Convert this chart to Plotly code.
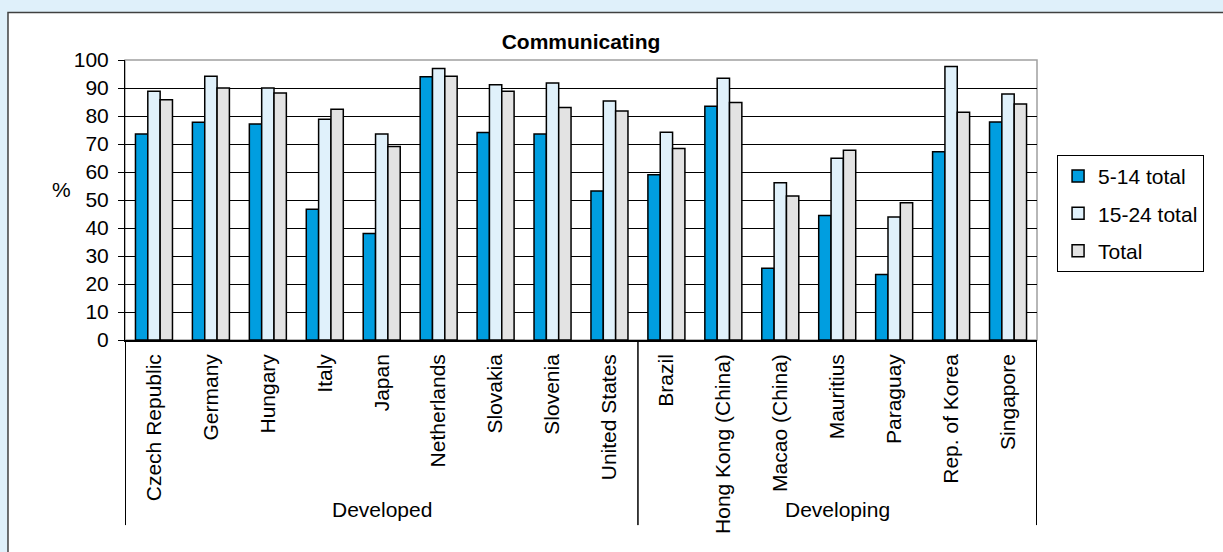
import plotly.graph_objects as go

groups = ["Developed"] * 9 + ["Developing"] * 7
countries = [
    "Czech Republic", "Germany", "Hungary", "Italy", "Japan", "Netherlands",
    "Slovakia", "Slovenia", "United States", "Brazil", "Hong Kong (China)",
    "Macao (China)", "Mauritius", "Paraguay", "Rep. of Korea", "Singapore",
]
age_5_14 = [73.6, 77.8, 77.1, 46.7, 38.0, 94.0, 74.1, 73.6, 53.2,
            59.0, 83.5, 25.6, 44.5, 23.4, 67.2, 77.9]
age_15_24 = [88.8, 94.2, 90.0, 78.8, 73.6, 97.0, 91.2, 91.8, 85.4,
             74.2, 93.5, 56.2, 64.9, 43.9, 97.7, 87.9]
total = [85.8, 90.0, 88.2, 82.4, 69.1, 94.2, 88.8, 83.0, 81.8,
         68.4, 84.8, 51.4, 67.8, 49.0, 81.3, 84.3]

series = [
    ("5-14 total", age_5_14, "#009ee0"),
    ("15-24 total", age_15_24, "#e0f1fb"),
    ("Total", total, "#e3e3e3"),
]

FONT = "Liberation Sans, Arial, sans-serif"

fig = go.Figure()
for name, vals, color in series:
    fig.add_trace(
        go.Bar(
            x=countries,
            y=vals,
            name=name,
            legendgroup=name,
            marker=dict(color=color, line=dict(color="black", width=1.5)),
        )
    )

# white panel on the light blue page
fig.add_shape(
    type="rect", xref="paper", yref="paper",
    x0=-0.1283, x1=1.25, y0=-0.9, y1=1.17,
    fillcolor="white", line=dict(color="#404040", width=1.5), layer="below",
)
# grey frame of the plot area
fig.add_shape(
    type="rect", xref="paper", yref="paper",
    x0=0, x1=1, y0=0, y1=1,
    line=dict(color="#a0a0a0", width=1.5), layer="below",
)

# group dividers and group labels under the country names
names = list(dict.fromkeys(groups))
start = 0
for g in names:
    n = groups.count(g)
    for xb in (start - 0.5, start + n - 0.5):
        fig.add_shape(
            type="line", xref="x", yref="paper", x0=xb, x1=xb, y0=0, y1=-0.661,
            line=dict(color="black", width=1),
        )
    fig.add_annotation(
        text=g, xref="x", yref="paper", x=start + (n - 1) / 2, y=-0.607,
        yanchor="middle", showarrow=False, font=dict(size=21, color="black"),
    )
    start += n

fig.add_annotation(
    text="%", xref="paper", yref="paper", x=-0.082, y=0.536,
    showarrow=False, font=dict(size=21, color="black"),
)

fig.update_layout(
    width=1223,
    height=552,
    margin=dict(l=125, r=186, t=60, b=212),
    paper_bgcolor="#dff0fa",
    plot_bgcolor="white",
    font=dict(family=FONT, size=21, color="black"),
    title=dict(
        text="<b>Communicating</b>", x=0.5, xref="paper",
        y=0.924, yanchor="middle", font=dict(size=21),
    ),
    barmode="group",
    bargap=0.35,
    bargroupgap=0,
    showlegend=True,
    legend=dict(
        x=1.022, y=0.661, xanchor="left", yanchor="top",
        bordercolor="black", borderwidth=1, bgcolor="white",
        traceorder="grouped", tracegroupgap=7,
        font=dict(size=21),
    ),
)
fig.update_yaxes(
    range=[0, 100], dtick=10, showgrid=True, gridcolor="black", gridwidth=1,
    showline=True, linecolor="black", linewidth=1,
    ticks="outside", ticklen=6, tickcolor="black", ticklabelstandoff=5,
    zeroline=False, tickfont=dict(size=21), automargin=False,
)
fig.update_xaxes(
    type="category", tickangle=-90, showline=True, linecolor="black",
    linewidth=1.5, ticks="", tickfont=dict(size=21), automargin=False,
    ticklabelstandoff=4,
)

fig.write_html(
    "out.html",
    config={"displayModeBar": False},
    post_script="document.body.style.margin='0';",
)
